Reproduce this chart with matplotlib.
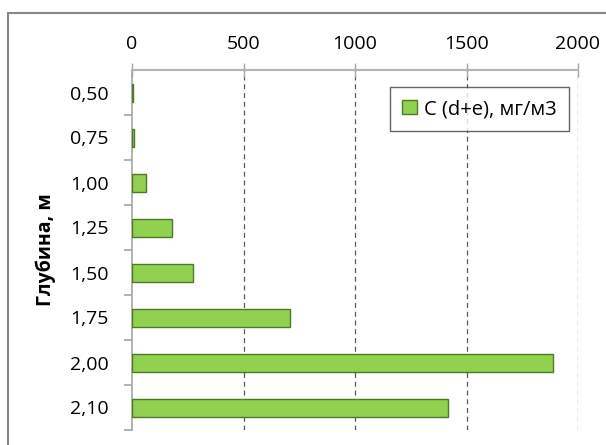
import matplotlib
matplotlib.use("Agg")
import matplotlib.pyplot as plt
from matplotlib.patches import Rectangle

depths = ["0,50", "0,75", "1,00", "1,25", "1,50", "1,75", "2,00", "2,10"]
values = [3, 10, 63, 179, 273, 710, 1888, 1415]
xticks = [0, 500, 1000, 1500, 2000]
series_label = "C (d+e), мг/м3"

plt.rcParams['font.family'] = ['Open Sans', 'DejaVu Sans']

W, H = 606, 445
fig = plt.figure(figsize=(W/100, H/100), dpi=100)
fig.patches.append(Rectangle((8/W, -0.1), 1.2, 1 - 13/H + 0.1, transform=fig.transFigure,
                             fill=False, edgecolor='#878787', linewidth=1.5))

ax = fig.add_axes([132/W, 1 - 430/H, (578-132)/W, (430-70)/H])
pos = list(range(len(depths)))
ax.barh(pos, values, height=0.4, color='#92d050', edgecolor='#4e7a28', linewidth=1, zorder=3,
        label=series_label)
ax.set_ylim(len(depths) - 0.5, -0.5)
ax.set_xlim(0, 2000)
ax.set_yticks(pos)
ax.set_yticklabels(depths, fontsize=14)
ax.set_yticks([p + 0.5 for p in pos], minor=True)
ax.tick_params(axis='y', which='major', length=0, pad=17)
ax.tick_params(axis='y', which='minor', length=6, color='#a6a6a6', width=1.2, direction='out')
ax.xaxis.tick_top()
ax.set_xticks(xticks)
ax.set_xticklabels([str(v) for v in xticks], fontsize=14)
ax.tick_params(axis='x', length=10, direction='inout', color='#a6a6a6', width=1, pad=7)
for x in xticks[1:]:
    ax.axvline(x, color='#595959', linestyle=(0, (4, 3)), linewidth=0.9, zorder=1)
for s in ['right', 'bottom']:
    ax.spines[s].set_visible(False)
ax.spines['top'].set_color('#b4b4b4')
ax.spines['top'].set_linewidth(1.5)
ax.spines['left'].set_color('#a6a6a6')
ax.spines['left'].set_linewidth(1.2)
ax.set_ylabel("Глубина, м", fontsize=14, fontweight='bold', labelpad=10)

leg = ax.legend(loc='upper right', bbox_to_anchor=((569-132)/(578-132), (430-87)/(360)),
                fontsize=14.5, frameon=True, fancybox=False, handlelength=0.75, handleheight=0.75,
                handletextpad=0.35, borderpad=0.6, borderaxespad=0)
leg.get_frame().set_edgecolor('#404040')
leg.get_frame().set_linewidth(1)

fig.savefig("out.png", dpi=100)
